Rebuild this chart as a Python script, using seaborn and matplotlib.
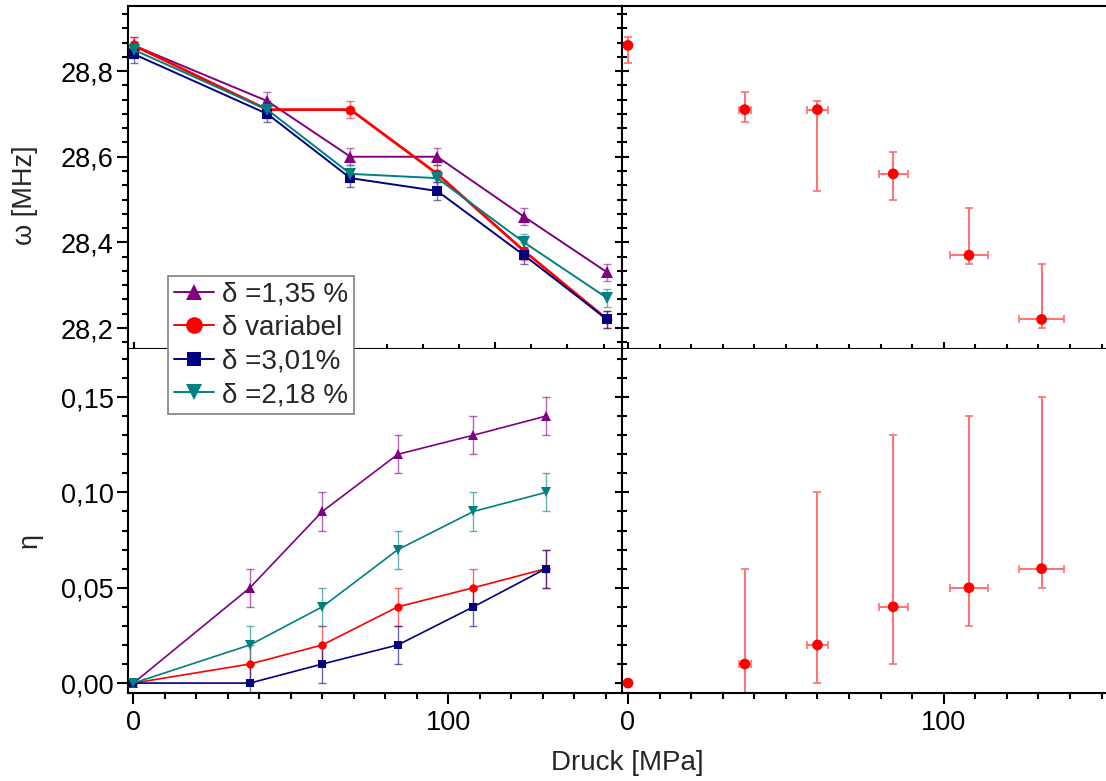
import numpy as np
import pandas as pd
import matplotlib
matplotlib.use("Agg")
import matplotlib.pyplot as plt
import seaborn as sns
from matplotlib.ticker import FixedLocator, MultipleLocator, FuncFormatter, NullFormatter
from matplotlib.lines import Line2D

# ---------------- data ----------------
pressure = [0, 37, 60, 84, 108, 131]
pressure_err = [0, 2.0, 3.3, 4.6, 5.9, 7.2]

labels = ["δ =1,35 %", "δ variabel", "δ =3,01%", "δ =2,18 %"]

omega_135 = [28.86, 28.73, 28.60, 28.60, 28.46, 28.33]
omega_var = [28.86, 28.71, 28.71, 28.56, 28.38, 28.22]
omega_301 = [28.84, 28.70, 28.55, 28.52, 28.37, 28.22]
omega_218 = [28.85, 28.71, 28.56, 28.55, 28.40, 28.27]
omega_err = [0.02, 0.02, 0.02, 0.02, 0.02, 0.02]

eta_135 = [0.00, 0.05, 0.09, 0.12, 0.13, 0.14]
eta_var = [0.00, 0.01, 0.02, 0.04, 0.05, 0.06]
eta_301 = [0.00, 0.00, 0.01, 0.02, 0.04, 0.06]
eta_218 = [0.00, 0.02, 0.04, 0.07, 0.09, 0.10]
eta_err = [0.00, 0.01, 0.01, 0.01, 0.01, 0.01]

# the "variabel" series as shown in the right panels (asymmetric errors)
omega_var_r = [28.86, 28.71, 28.71, 28.56, 28.37, 28.22]
omega_var_lo = [0.04, 0.03, 0.19, 0.06, 0.02, 0.02]
omega_var_hi = [0.02, 0.04, 0.02, 0.05, 0.11, 0.13]
eta_var_lo = [0.00, 0.02, 0.02, 0.03, 0.02, 0.01]
eta_var_hi = [0.00, 0.05, 0.08, 0.09, 0.09, 0.09]

# ---------------- style ----------------
sns.set_theme(style="white")
plt.rcParams["font.family"] = ["Liberation Sans", "DejaVu Sans"]
plt.rcParams["axes.linewidth"] = 1.5

colors = {"δ =1,35 %": "#800080", "δ variabel": "#FF0000",
          "δ =3,01%": "#000080", "δ =2,18 %": "#008080"}
markers = {"δ =1,35 %": "^", "δ variabel": "o", "δ =3,01%": "s", "δ =2,18 %": "v"}

W, H = 1106, 781
fig = plt.figure(figsize=(W / 100, H / 100), dpi=100)

def fx(px):
    return px / W

def fy(py):
    return 1 - py / H

xl, xm, xr = 127.5, 622, 1106
yt, ym, yb = 6, 349, 693
axTL = fig.add_axes([fx(xl), fy(ym), fx(xm) - fx(xl), fy(yt) - fy(ym)])
axTR = fig.add_axes([fx(xm), fy(ym), fx(xr) - fx(xm), fy(yt) - fy(ym)])
axBL = fig.add_axes([fx(xl), fy(yb), fx(xm) - fx(xl), fy(ym) - fy(yb)])
axBR = fig.add_axes([fx(xm), fy(yb), fx(xr) - fx(xm), fy(ym) - fy(yb)])

omega_series = [omega_135, omega_var, omega_301, omega_218]
eta_series = [eta_135, eta_var, eta_301, eta_218]

# top-left: omega
for lab, vals in zip(labels, omega_series):
    c = colors[lab]
    m = markers[lab]
    lw = 2.0 if lab == "δ variabel" else 1.4
    ms = 7 if m == "o" else (6.5 if m == "s" else 8)
    axTL.errorbar(pressure, vals, yerr=omega_err, fmt="none", ecolor=c,
                  alpha=0.55, elinewidth=1.0, capsize=2.6, capthick=1.0, zorder=2)
    df = pd.DataFrame({"p": pressure, "v": vals})
    sns.lineplot(data=df, x="p", y="v", ax=axTL, color=c, marker=m,
                 markersize=ms, markeredgewidth=0, linewidth=lw,
                 errorbar=None, legend=False, zorder=3)

# bottom-left: eta
for lab, vals in zip(labels, eta_series):
    c = colors[lab]
    m = markers[lab]
    ms = 6 if m == "o" else (5.5 if m == "s" else 6.5)
    axBL.errorbar(pressure, vals, yerr=eta_err, fmt="none", ecolor=c,
                  alpha=0.6, elinewidth=1.0, capsize=2.6, capthick=1.0, zorder=2)
    df = pd.DataFrame({"p": pressure, "v": vals})
    sns.lineplot(data=df, x="p", y="v", ax=axBL, color=c, marker=m,
                 markersize=ms, markeredgewidth=0, linewidth=1.2,
                 errorbar=None, legend=False, zorder=3)

# right panels: variabel with asymmetric errors
err_c = "#FF7070"
axTR.errorbar(pressure, omega_var_r, yerr=[omega_var_lo, omega_var_hi],
              xerr=pressure_err, fmt="none", ecolor=err_c, elinewidth=1.4,
              capsize=2.8, capthick=1.2, zorder=2)
sns.scatterplot(x=pressure, y=omega_var_r, ax=axTR, color="#FF0000", marker="o",
                s=60, edgecolor="none", legend=False, zorder=3)
axBR.errorbar(pressure, eta_var, yerr=[eta_var_lo, eta_var_hi],
              xerr=pressure_err, fmt="none", ecolor=err_c, elinewidth=1.4,
              capsize=2.8, capthick=1.2, zorder=2)
sns.scatterplot(x=pressure, y=eta_var, ax=axBR, color="#FF0000", marker="o",
                s=60, edgecolor="none", legend=False, zorder=3)

# ---------------- axes limits ----------------
axTL.set_xlim(-1.66, 135.1)
axBL.set_xlim(-1.9, 155.2)
axTR.set_xlim(-1.9, 151.4)
axBR.set_xlim(-1.9, 151.4)
for ax in (axTL, axTR):
    ax.set_ylim(28.151, 28.952)
for ax in (axBL, axBR):
    ax.set_ylim(-0.0052, 0.1752)

comma1 = FuncFormatter(lambda v, p: f"{v:.1f}".replace(".", ","))
comma2 = FuncFormatter(lambda v, p: f"{v:.2f}".replace(".", ","))
intfmt = FuncFormatter(lambda v, p: f"{v:.0f}")

for ax in (axTL, axTR, axBL, axBR):
    ax.set_xlabel("")
    ax.set_ylabel("")
    ax.xaxis.set_major_locator(FixedLocator([0, 100]))
    ax.xaxis.set_minor_locator(MultipleLocator(10))
    for s in ax.spines.values():
        s.set_color("black")
        s.set_linewidth(1.5)
    ax.tick_params(which="both", colors="black", width=1.5, labelsize=19.5)
    ax.tick_params(which="major", length=8)
    ax.tick_params(which="minor", length=4)

for ax in (axTL, axTR):
    ax.yaxis.set_major_locator(MultipleLocator(0.2))
    ax.yaxis.set_minor_locator(MultipleLocator(0.2 / 6))
    ax.xaxis.set_major_formatter(NullFormatter())
    ax.tick_params(axis="x", which="both", direction="inout", bottom=True, labelbottom=False)
    ax.tick_params(axis="x", which="major", length=10)
    ax.tick_params(axis="x", which="minor", length=7)
for ax in (axBL, axBR):
    ax.yaxis.set_major_locator(MultipleLocator(0.05))
    ax.yaxis.set_minor_locator(MultipleLocator(0.01))
    ax.xaxis.set_major_formatter(intfmt)
    ax.tick_params(axis="x", which="both", direction="out", bottom=True, labelbottom=True, pad=4)
    ax.spines["top"].set_visible(False)

axTL.yaxis.set_major_formatter(comma1)
axBL.yaxis.set_major_formatter(comma2)
for ax in (axTL, axBL):
    ax.tick_params(axis="y", which="both", direction="out", left=True, labelleft=True, pad=2)
    ax.spines["right"].set_visible(False)
for ax in (axTR, axBR):
    ax.tick_params(axis="y", which="both", direction="inout", left=True, labelleft=False)
    ax.tick_params(axis="y", which="major", length=10)
    ax.tick_params(axis="y", which="minor", length=7)
    ax.spines["right"].set_visible(False)

# ---------------- labels ----------------
fig.text(fx(25), fy(195), "ω [MHz]", rotation=90, ha="center", va="center", fontsize=19.5)
fig.text(fx(30), fy(540), "η", rotation=90, ha="center", va="center", fontsize=19.5)
fig.text(fx(627), fy(763), "Druck [MPa]", ha="center", va="center", fontsize=20)

# ---------------- legend ----------------
handles = []
for lab in labels:
    handles.append(Line2D([0], [0], color=colors[lab], marker=markers[lab],
                          markersize=12 if markers[lab] != "s" else 10,
                          markeredgewidth=0, linewidth=1.4, label=lab))
leg = fig.legend(handles=handles, loc="upper left",
                 bbox_to_anchor=(fx(168), fy(276)), frameon=True, fancybox=False,
                 fontsize=20, borderpad=0.2, labelspacing=0.27, handlelength=1.45,
                 handletextpad=0.3, borderaxespad=0, framealpha=1)
leg.get_frame().set_edgecolor("#808080")
leg.get_frame().set_linewidth(1.2)
leg.set_zorder(10)

fig.savefig("out.png", dpi=100, facecolor="white")
